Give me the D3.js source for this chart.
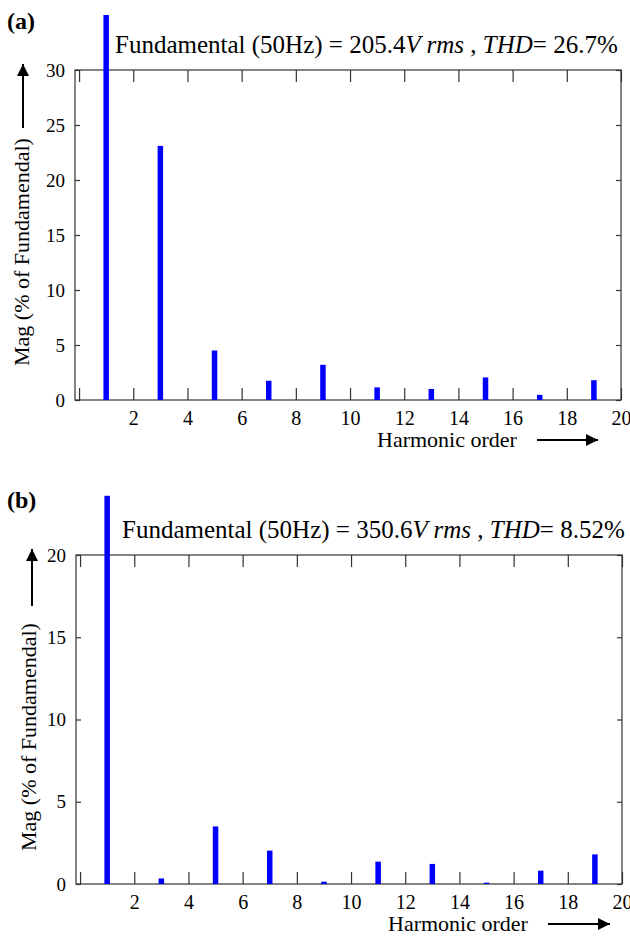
<!doctype html>
<html lang="en">
<head>
<meta charset="utf-8">
<title>Harmonic spectrum</title>
<script src="https://cdnjs.cloudflare.com/ajax/libs/d3/7.8.5/d3.min.js"></script>
<style>
body { margin: 0; background: #fff; }
svg text { font-family: "Liberation Serif", "Times New Roman", serif; fill: #000; }
</style>
</head>
<body>
<script>
// harmonic orders shown as bars
var harmonics = [1, 3, 5, 7, 9, 11, 13, 15, 17, 19];

// magnitudes (% of fundamental)
var magA = [35, 23.1, 4.5, 1.75, 3.2, 1.15, 1.0, 2.05, 0.47, 1.8];
var magB = [23.6, 0.34, 3.5, 2.03, 0.14, 1.36, 1.22, 0.08, 0.81, 1.8];

var xTicks = [0, 2, 4, 6, 8, 10, 12, 14, 16, 18, 20];
var yTicksA = [0, 5, 10, 15, 20, 25, 30];
var yTicksB = [0, 5, 10, 15, 20];

var titleA = ["205.4", "26.7%"];
var titleB = ["350.6", "8.52%"];

var W = 630, H = 936;

var svg = d3.select("body").append("svg")
    .attr("width", W)
    .attr("height", H);

var defs = svg.append("defs");
defs.append("marker")
    .attr("id", "arrow")
    .attr("viewBox", "0 0 10 10")
    .attr("refX", 10).attr("refY", 5)
    .attr("markerWidth", 9).attr("markerHeight", 6)
    .attr("markerUnits", "strokeWidth")
    .attr("orient", "auto")
  .append("path")
    .attr("d", "M0,0 L10,5 L0,10 z")
    .attr("fill", "#000");

function drawPanel(p) {
    var g = svg.append("g");

    var x = d3.scaleLinear().domain([-0.15, 20]).range([p.left, p.right]);
    var y = d3.scaleLinear().domain([0, p.yMax]).range([p.bottom, p.top]);

    // frame
    g.append("rect")
        .attr("x", p.left).attr("y", p.top)
        .attr("width", p.right - p.left)
        .attr("height", p.bottom - p.top)
        .attr("fill", "none")
        .attr("stroke", "#333")
        .attr("stroke-width", 1.2);

    // bottom axis, ticks pointing inward
    var xAxis = d3.axisBottom(x).tickValues(xTicks).tickSize(-12).tickPadding(11)
        .tickFormat(function (d) { return d === 0 ? "" : d; });
    var gx = g.append("g").attr("transform", "translate(0," + p.bottom + ")").call(xAxis);
    gx.select(".domain").remove();
    gx.selectAll("line").attr("stroke", "#333").attr("stroke-width", 1.2);
    gx.selectAll("text").attr("font-size", 20).attr("font-family", "Liberation Serif");

    // top ticks
    var gt = g.append("g").attr("transform", "translate(0," + p.top + ")")
        .call(d3.axisTop(x).tickValues(xTicks).tickSize(-12).tickFormat(""));
    gt.select(".domain").remove();
    gt.selectAll("line").attr("stroke", "#333").attr("stroke-width", 1.2);

    // left axis
    var gy = g.append("g").attr("transform", "translate(" + p.left + ",0)")
        .call(d3.axisLeft(y).tickValues(p.yTicks).tickSize(-5).tickPadding(10));
    gy.select(".domain").remove();
    gy.selectAll("line").attr("stroke", "#333").attr("stroke-width", 1.2);
    gy.selectAll("text").attr("font-size", 19).attr("font-family", "Liberation Serif");

    // right ticks
    var gr = g.append("g").attr("transform", "translate(" + p.right + ",0)")
        .call(d3.axisRight(y).tickValues(p.yTicks).tickSize(-5).tickFormat(""));
    gr.select(".domain").remove();
    gr.selectAll("line").attr("stroke", "#333").attr("stroke-width", 1.2);

    // bars
    var bw = 5.5;
    g.selectAll("rect.bar")
        .data(harmonics.map(function (h, i) { return { h: h, v: p.values[i] }; }))
        .enter().append("rect")
        .attr("class", "bar")
        .attr("x", function (d) { return x(d.h) - bw / 2; })
        .attr("y", function (d) { return y(d.v); })
        .attr("width", bw)
        .attr("height", function (d) { return y(0) - y(d.v); })
        .attr("fill", "#0000ff");

    // panel letter
    g.append("text")
        .attr("x", 7).attr("y", p.labelY)
        .attr("font-size", 24).attr("font-weight", "bold")
        .text(p.letter);

    // title
    var t = g.append("text")
        .attr("x", p.titleX).attr("y", p.titleY)
        .attr("font-size", 25);
    t.append("tspan").text("Fundamental (50Hz) = " + p.title[0]);
    t.append("tspan").attr("font-style", "italic").text("V rms");
    t.append("tspan").text(" , ");
    t.append("tspan").attr("font-style", "italic").text("THD");
    t.append("tspan").text("= " + p.title[1]);

    // x label and arrow
    g.append("text")
        .attr("x", p.xLabelX).attr("y", p.bottom + 47)
        .attr("font-size", 22)
        .text("Harmonic order");
    g.append("line")
        .attr("x1", p.xArrow[0]).attr("x2", p.xArrow[1])
        .attr("y1", p.bottom + 40).attr("y2", p.bottom + 40)
        .attr("stroke", "#000").attr("stroke-width", 2)
        .attr("marker-end", "url(#arrow)");

    // y label and arrow
    g.append("text")
        .attr("transform", "translate(" + p.yLabelX + "," + p.yLabelY + ") rotate(-90)")
        .attr("font-size", 22)
        .text("Mag (% of Fundamendal)");
    g.append("line")
        .attr("x1", p.yArrowX).attr("x2", p.yArrowX)
        .attr("y1", p.yArrow[0]).attr("y2", p.yArrow[1])
        .attr("stroke", "#000").attr("stroke-width", 2)
        .attr("marker-end", "url(#arrow)");
}

drawPanel({
    letter: "(a)", labelY: 29,
    left: 75, right: 621, top: 70, bottom: 400,
    yMax: 30, yTicks: yTicksA, values: magA,
    title: titleA, titleX: 115, titleY: 53,
    xLabelX: 377, xArrow: [537, 598],
    yLabelX: 29, yLabelY: 366, yArrowX: 23, yArrow: [128, 64]
});

drawPanel({
    letter: "(b)", labelY: 508,
    left: 76, right: 622, top: 555, bottom: 884,
    yMax: 20, yTicks: yTicksB, values: magB,
    title: titleB, titleX: 122, titleY: 538,
    xLabelX: 388, xArrow: [548, 610],
    yLabelX: 36, yLabelY: 851, yArrowX: 32, yArrow: [606, 549]
});
</script>
</body>
</html>
